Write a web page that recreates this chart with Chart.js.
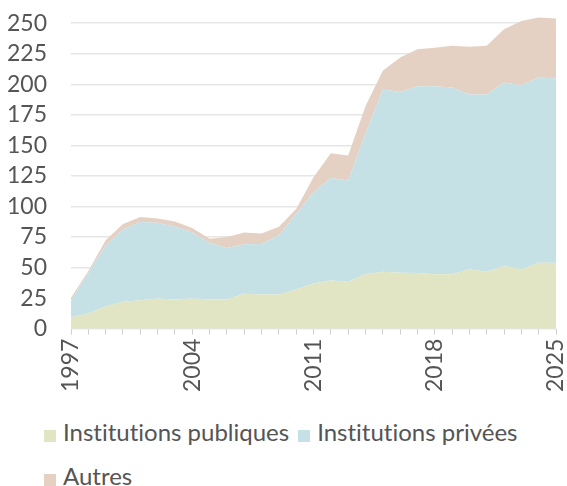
<!DOCTYPE html>
<html lang="fr">
<head>
<meta charset="utf-8">
<script src="https://cdn.jsdelivr.net/npm/chart.js@4.4.1/dist/chart.umd.min.js"></script>
<style>
  body { margin: 0; background: #fff; font-family: Lato, sans-serif; }
  #wrap { position: relative; width: 567px; height: 486px; }
  #box { position: absolute; left: 0; top: 0; width: 567px; height: 396px; }
  #legend { position: absolute; left: 44px; top: 410px; width: 520px; font-size: 24px; line-height: 44px;
            color: #555; font-variant-ligatures: none; }
  #legend span.item { display: inline-block; margin-right: 9px; white-space: nowrap; }
  #legend i { display: inline-block; width: 12px; height: 12px; margin-right: 7px; vertical-align: -1px; }
</style>
</head>
<body>
<div id="wrap">
  <div id="box"><canvas id="chart"></canvas></div>
  <div id="legend"></div>
</div>
<script>
// Données
const years = ['1997','1998','1999','2000','2001','2002','2003','2004','2005','2006',
  '2007','2008','2009','2010','2011','2012','2013','2014','2015','2016',
  '2017','2018','2019','2020','2021','2022','2023','2024','2025'];
const publiques = [9.4, 12.4, 18.4, 22, 23.3, 24.7, 23.9, 24.7, 23.9, 23.9,
  28.5, 28, 28, 32.1, 37, 39.5, 38.4, 44.5, 46.6, 45.8,
  45.5, 44.5, 44.5, 48.6, 46.6, 51.3, 48.6, 54, 54];
const privees = [13.9, 33.4, 49.9, 59.2, 63.9, 61.9, 59.5, 54, 46.1, 42.1,
  40.6, 41.3, 48.5, 61.7, 74.6, 83.9, 82.8, 115.1, 149.1, 148,
  153, 154, 152.9, 143, 145, 150.2, 150.7, 151.6, 150.8];
const autres = [1.9, 1.4, 4.1, 4.4, 4.1, 3.6, 4.3, 3.6, 3.5, 9.1,
  9.6, 8.6, 6.9, 4.1, 12.3, 20.2, 20.5, 22.4, 15.3, 28.2,
  30.1, 31.5, 34.2, 39.2, 40, 43.5, 52.6, 49, 49];
const yTicks = [0, 25, 50, 75, 100, 125, 150, 175, 200, 225, 250];

const couleurs = ['#e1e5c4', '#c5e1e6', '#e5d1c3'];

const serie = (label, data, color, fill) => ({
    label, data, fill,
    backgroundColor: color,
    borderColor: color,
    borderWidth: 0,
    pointRadius: 0,
    tension: 0
});

const chart = new Chart(document.getElementById('chart'), {
    type: 'line',
    data: {
        labels: years,
        datasets: [
            serie('Institutions publiques', publiques, couleurs[0], 'origin'),
            serie('Institutions privées', privees, couleurs[1], '-1'),
            serie('Autres', autres, couleurs[2], '-1')
        ]
    },
    options: {
        responsive: true,
        maintainAspectRatio: false,
        animation: false,
        layout: { padding: { left: 7, right: 11, top: 11, bottom: 0 } },
        plugins: { legend: { display: false }, tooltip: { enabled: false } },
        scales: {
            x: {
                offset: false,
                afterFit: axis => { axis.paddingLeft = 0; axis.paddingRight = 0; },
                grid: { drawOnChartArea: false, drawTicks: true, tickLength: 6, color: '#d0d0d0' },
                border: { display: false },
                ticks: {
                    autoSkip: false,
                    minRotation: 90,
                    maxRotation: 90,
                    padding: 4,
                    color: '#555',
                    font: { family: 'Lato', size: 23 },
                    callback: (v, i) => (i % 7 === 0 ? years[i] : '')
                }
            },
            y: {
                stacked: true,
                min: 0,
                max: 260,
                afterBuildTicks: axis => { axis.ticks = yTicks.map(v => ({ value: v })); },
                // chart.js compte le padding des labels deux fois
                afterFit: axis => { axis.paddingTop = 0; axis.paddingBottom = 0; axis.width -= 24; },
                grid: { color: '#e6e6e6', lineWidth: 1.5, drawTicks: false },
                border: { display: false },
                ticks: {
                    autoSkip: false,
                    padding: 24,
                    color: '#555',
                    font: { family: 'Lato', size: 23 }
                }
            }
        }
    }
});

// Légende HTML
const legend = document.getElementById('legend');
chart.data.datasets.forEach(ds => {
    const item = document.createElement('span');
    item.className = 'item';
    item.innerHTML = `<i style="background:${ds.backgroundColor}"></i>${ds.label}`;
    legend.appendChild(item);
});
</script>
</body>
</html>
